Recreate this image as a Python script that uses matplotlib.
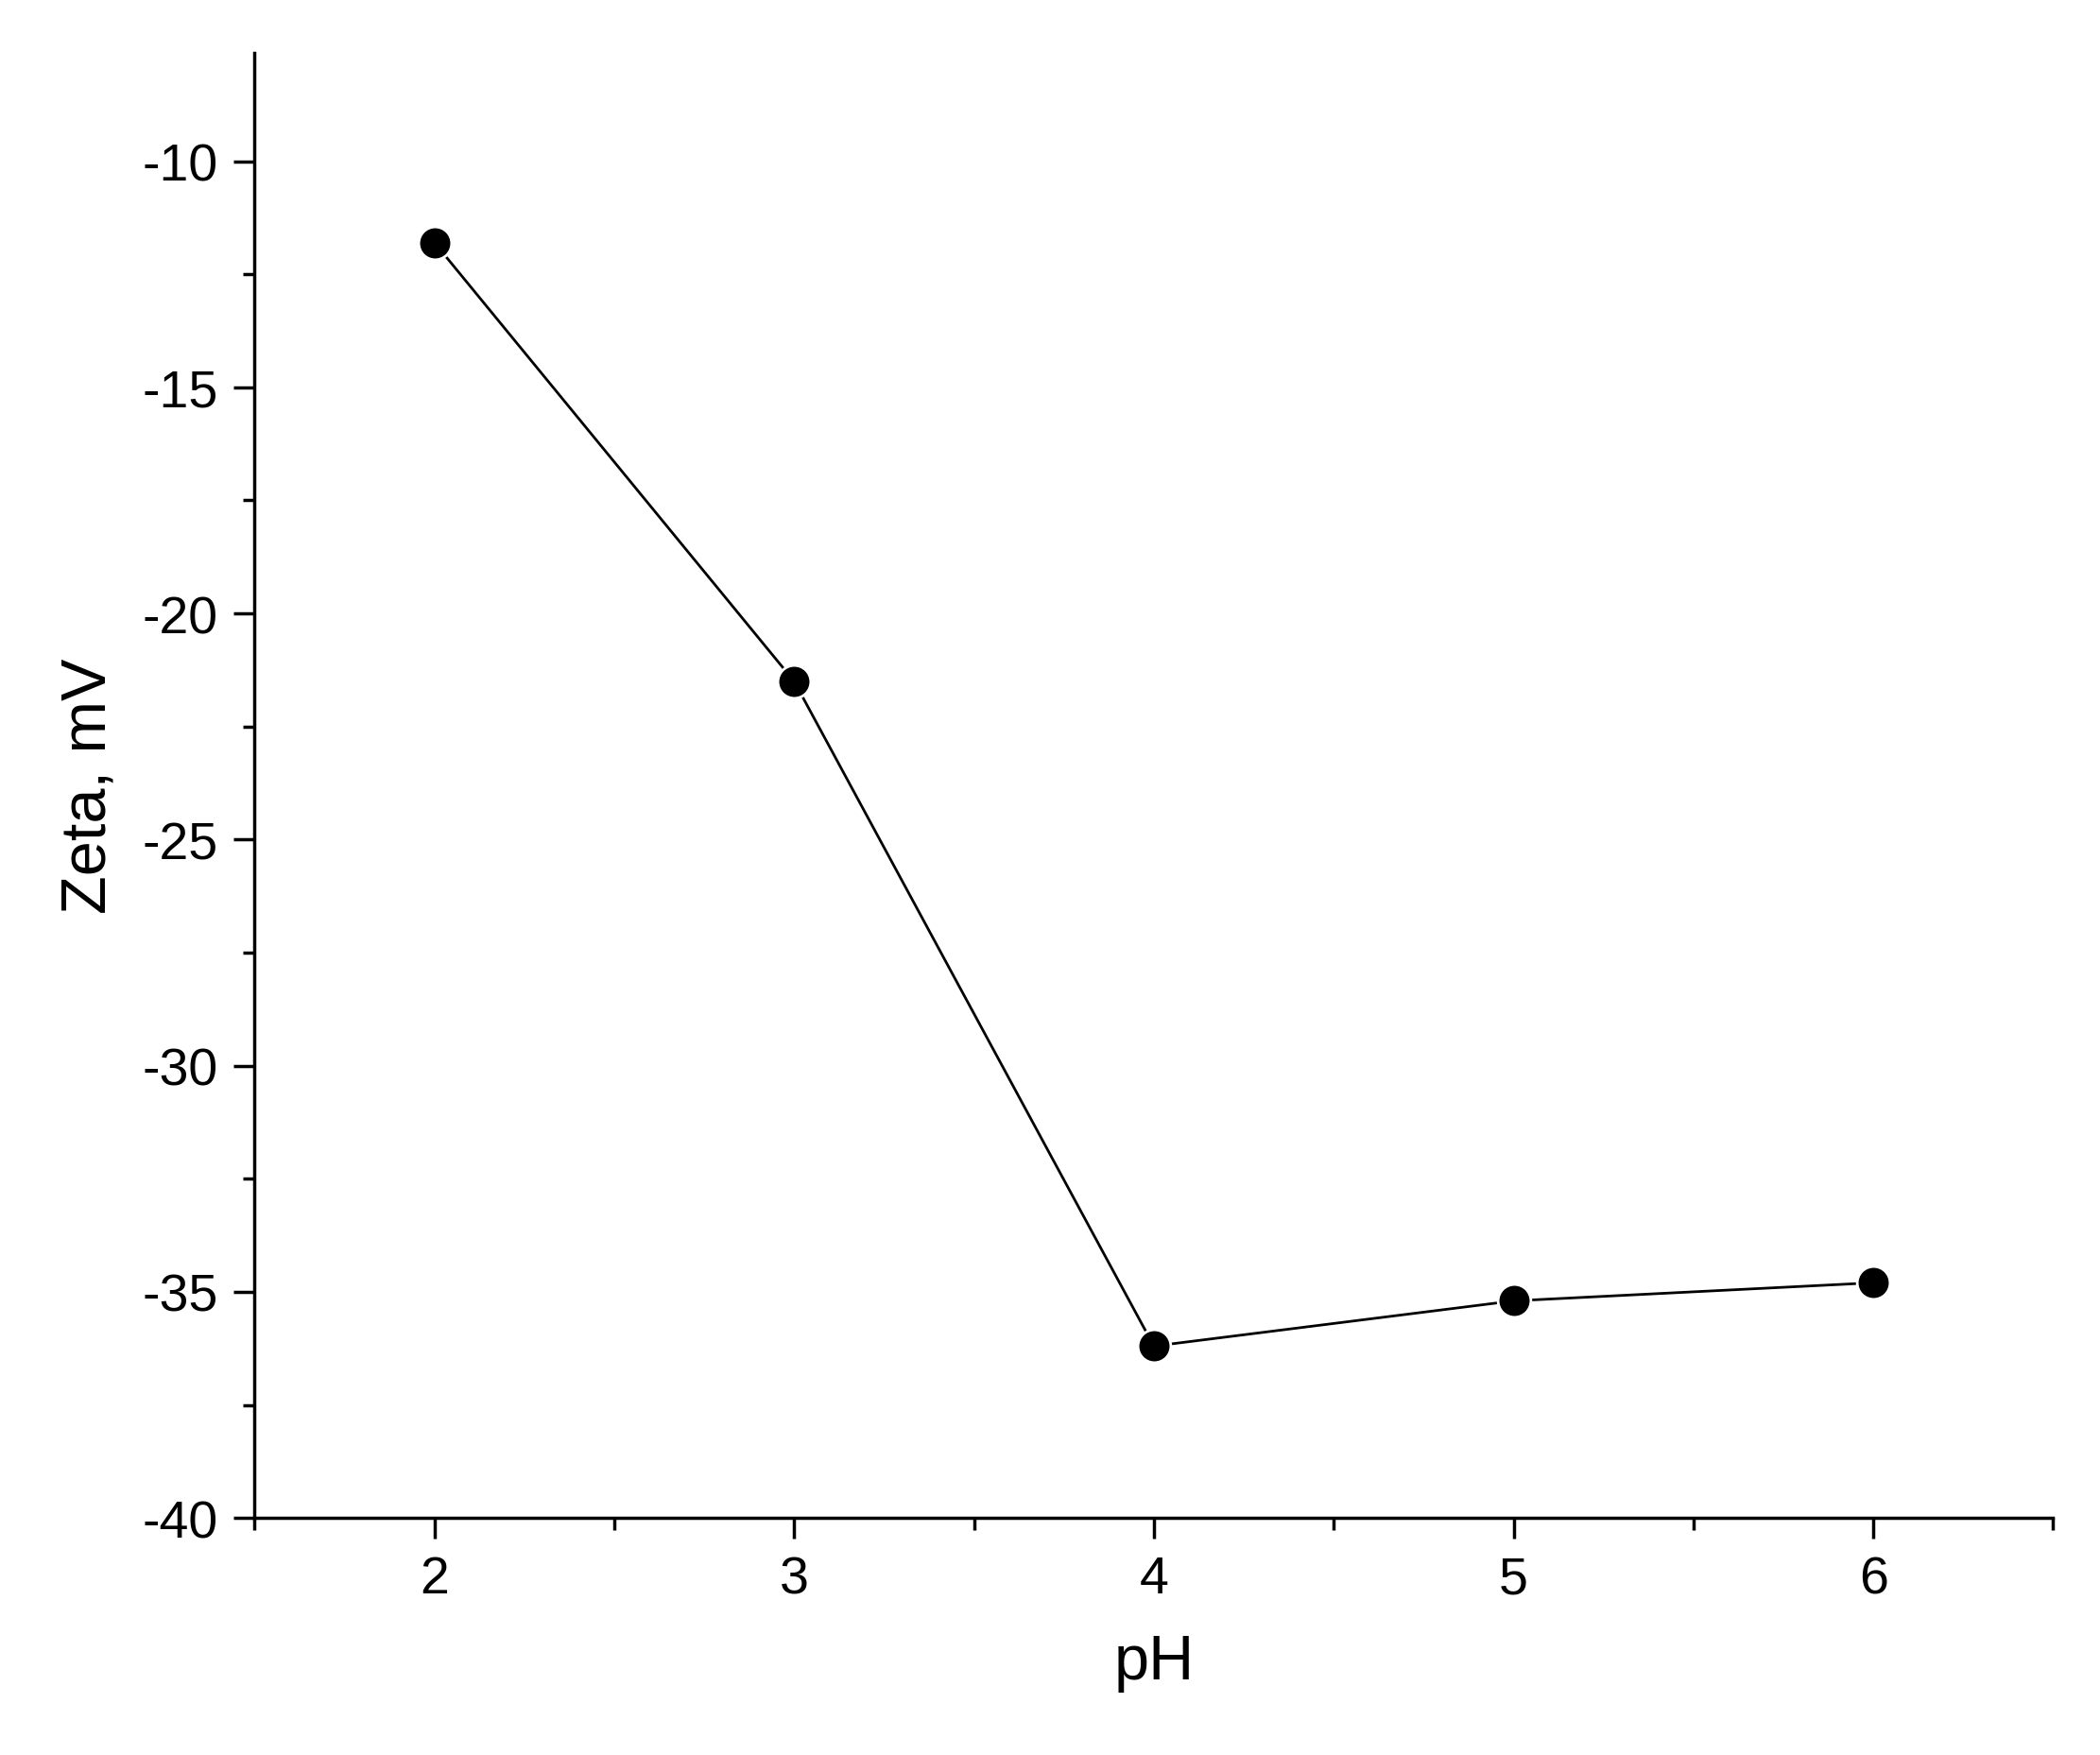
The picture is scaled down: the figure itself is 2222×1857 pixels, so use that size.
import matplotlib
matplotlib.use("Agg")
import matplotlib.pyplot as plt
from matplotlib.ticker import MultipleLocator

ph = [2, 3, 4, 5, 6]
zeta = [-11.8, -21.5, -36.2, -35.2, -34.8]

plt.rcParams["font.family"] = ["Liberation Sans", "DejaVu Sans"]
plt.rcParams["axes.unicode_minus"] = False

fig = plt.figure(figsize=(22.22, 18.58), dpi=100)
ax = fig.add_axes([0.1212, 0.135, 0.8565, 0.8345])
ax.plot(ph, zeta, color="black", lw=2, marker="o", markersize=25,
        markerfacecolor="black", markeredgecolor="white", markeredgewidth=2)

ax.set_xlim(1.5, 6.5)
ax.set_ylim(-40, -7.6)
ax.xaxis.set_major_locator(MultipleLocator(1))
ax.xaxis.set_minor_locator(MultipleLocator(0.5))
ax.yaxis.set_major_locator(MultipleLocator(5))
ax.yaxis.set_minor_locator(MultipleLocator(2.5))
for s in ("top", "right"):
    ax.spines[s].set_visible(False)
for s in ("left", "bottom"):
    ax.spines[s].set_linewidth(2.5)
ax.tick_params(which="major", direction="out", length=16, width=2.5, labelsize=40, pad=12)
ax.tick_params(which="minor", direction="out", length=9, width=2.5)
ax.set_xlabel("pH", fontsize=48, labelpad=22)
ax.set_ylabel("Zeta, mV", fontsize=48, labelpad=18)

fig.savefig("out.png", dpi=100, facecolor="white")
